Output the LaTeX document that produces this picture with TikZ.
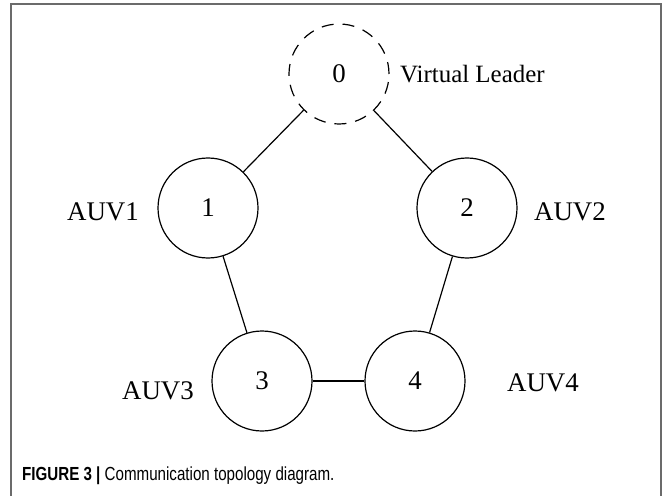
\documentclass[tikz,border=0pt]{standalone}
\usepackage{fontspec}
\setmainfont{Liberation Serif}
\newfontfamily\capfont[FakeStretch=0.8]{Liberation Sans}
\begin{document}
\begin{tikzpicture}[x=1bp,y=-1bp,
  auv/.style={draw, circle, minimum size=100bp, inner sep=0pt, line width=1.2bp, font=\fontsize{27}{30}\selectfont},
  leader/.style={auv, dash pattern=on 12bp off 9bp},
  tag/.style={font=\fontsize{27}{30}\selectfont, inner sep=0pt},
  link/.style={line width=1.2bp}]
  \useasboundingbox (0,0) rectangle (663,496);
  % frame
  \draw[black!58, line width=2bp] (11,496) -- (11,4) -- (661,4) -- (661,496);
  % agents
  \node[leader] (n0) at (339,74) {0};
  \node[auv] (n1) at (208,208) {1};
  \node[auv] (n2) at (467,208) {2};
  \node[auv] (n3) at (262,381) {3};
  \node[auv] (n4) at (415,381) {4};
  \node[tag, anchor=west, font=\fontsize{25}{28}\selectfont] (vl) at (400,74) {Virtual Leader};
  \node[tag] (a1) at (103,212) {AUV1};
  \node[tag] (a2) at (570,212) {AUV2};
  \node[tag] (a3) at (158,391) {AUV3};
  \node[tag] (a4) at (543,383) {AUV4};
  % links
  \draw[link] (n0) -- (n1);
  \draw[link] (n0) -- (n2);
  \draw[link] (n1) -- (n3);
  \draw[link] (n2) -- (n4);
  \draw[link] (n3) -- (n4);
  % caption
  \node[anchor=west, inner sep=0pt, font=\capfont\fontsize{19}{22}\selectfont] (cap) at (22,476) {\textbf{FIGURE 3 |} Communication topology diagram.};
\end{tikzpicture}
\end{document}
